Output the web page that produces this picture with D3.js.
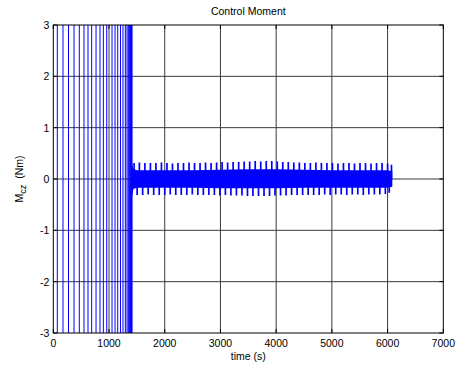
<!DOCTYPE html>
<html>
<head>
<meta charset="utf-8">
<script src="https://cdn.jsdelivr.net/npm/d3@7"></script>
<style>
  body { margin: 0; background: #fff; }
  text { font-family: "Liberation Sans", Arial, sans-serif; fill: #000; }
</style>
</head>
<body>
<div id="target"></div>
<script>
// tick labels
const xTicks = [0, 1000, 2000, 3000, 4000, 5000, 6000, 7000]
const yTicks = [-3, -2, -1, 0, 1, 2, 3]

// big off-scale swings before ~1400 s (crossing times, s)
const swingTimes = [72, 174, 273, 372, 467, 551, 623, 689, 767, 838, 898, 959, 1054, 1108,
    1156, 1206, 1251, 1293, 1323, 1345, 1360, 1372, 1384, 1395, 1405, 1413]

// dense oscillation envelope after the transient
const bandTimes = [1412, 1425, 1445, 1500, 2000, 2500, 3000, 3500, 4000, 4500, 5000, 5500, 6000, 6085]
const bandHigh = [0.30, 0.24, 0.19, 0.17, 0.17, 0.17, 0.18, 0.19, 0.19, 0.18, 0.17, 0.17, 0.17, 0.15]
const bandLow = [-0.27, -0.24, -0.19, -0.17, -0.17, -0.17, -0.18, -0.18, -0.18, -0.17, -0.17, -0.17, -0.17, -0.15]

// periodic spikes (time of upper spike, s) and their extremes (Nm)
const spikeTimes = [1450, 1545, 1644, 1743, 1842, 1941, 2040, 2139, 2238, 2337, 2436, 2535, 2634,
    2733, 2832, 2931, 3030, 3129, 3228, 3327, 3426, 3525, 3624, 3723, 3822, 3921, 4020, 4119,
    4218, 4317, 4416, 4515, 4614, 4713, 4812, 4911, 5010, 5109, 5208, 5307, 5406, 5505, 5604,
    5703, 5802, 5901, 6000, 6070]
const spikeHigh = [0.31, 0.32, 0.31, 0.31, 0.31, 0.32, 0.31, 0.30, 0.31, 0.31, 0.32, 0.31, 0.31,
    0.32, 0.31, 0.32, 0.33, 0.32, 0.33, 0.33, 0.34, 0.34, 0.35, 0.34, 0.35, 0.35, 0.34, 0.33,
    0.33, 0.32, 0.32, 0.31, 0.31, 0.32, 0.31, 0.31, 0.31, 0.30, 0.31, 0.31, 0.30, 0.31, 0.31,
    0.30, 0.31, 0.31, 0.30, 0.28]
const spikeLow = [-0.30, -0.31, -0.31, -0.30, -0.31, -0.31, -0.31, -0.30, -0.31, -0.31, -0.31, -0.30, -0.31,
    -0.31, -0.31, -0.31, -0.32, -0.31, -0.32, -0.32, -0.32, -0.33, -0.33, -0.33, -0.33, -0.33, -0.32, -0.32,
    -0.32, -0.31, -0.31, -0.31, -0.31, -0.31, -0.31, -0.30, -0.31, -0.30, -0.30, -0.31, -0.30, -0.30, -0.31,
    -0.30, -0.30, -0.30, -0.29, -0.27]

const width = 460, height = 372
const margin = { left: 53.3, right: 16.7, top: 25, bottom: 39 }
const blue = '#0000ff'

const svg = d3.select('#target').append('svg')
    .attr('width', width)
    .attr('height', height)

const x = d3.scaleLinear().domain([0, 7000]).range([margin.left, width - margin.right])
const y = d3.scaleLinear().domain([-3, 3]).range([height - margin.bottom, margin.top])

svg.append('clipPath').attr('id', 'plot-clip')
    .append('rect')
    .attr('x', x(0)).attr('y', y(3))
    .attr('width', x(7000) - x(0)).attr('height', y(-3) - y(3))

//Grid
const grid = svg.append('g').attr('stroke', '#3a3a3a').attr('stroke-width', 1)
grid.selectAll('line.gx')
    .data(xTicks.slice(1, -1))
    .enter().append('line')
    .attr('x1', d => x(d)).attr('x2', d => x(d))
    .attr('y1', y(3)).attr('y2', y(-3))
grid.selectAll('line.gy')
    .data(yTicks.slice(1, -1))
    .enter().append('line')
    .attr('x1', x(0)).attr('x2', x(7000))
    .attr('y1', d => y(d)).attr('y2', d => y(d))

//Signal
const plot = svg.append('g').attr('clip-path', 'url(#plot-clip)')

plot.selectAll('line.swing')
    .data(swingTimes)
    .enter().append('line')
    .attr('x1', d => x(d)).attr('x2', d => x(d))
    .attr('y1', y(3.5)).attr('y2', y(-3.5))
    .attr('stroke', blue)
    .attr('stroke-width', 1)

const bandData = bandTimes.map((t, i) => [t, bandLow[i], bandHigh[i]])
plot.append('path')
    .attr('d', d3.area()
        .x(d => x(d[0]))
        .y0(d => y(d[1]))
        .y1(d => y(d[2]))(bandData))
    .attr('fill', blue)

plot.selectAll('line.up')
    .data(spikeTimes)
    .enter().append('line')
    .attr('x1', d => x(d)).attr('x2', d => x(d))
    .attr('y1', y(0)).attr('y2', (d, i) => y(spikeHigh[i]))
    .attr('stroke', blue)
    .attr('stroke-width', 1.7)

plot.selectAll('line.down')
    .data(spikeTimes)
    .enter().append('line')
    .attr('x1', d => x(d - 40)).attr('x2', d => x(d - 40))
    .attr('y1', y(0)).attr('y2', (d, i) => y(spikeLow[i]))
    .attr('stroke', blue)
    .attr('stroke-width', 1.7)

//Box and ticks
svg.append('rect')
    .attr('x', x(0)).attr('y', y(3))
    .attr('width', x(7000) - x(0)).attr('height', y(-3) - y(3))
    .attr('fill', 'none')
    .attr('stroke', '#000')
    .attr('stroke-width', 1)

const ticks = svg.append('g').attr('stroke', '#000').attr('stroke-width', 1)
xTicks.forEach(d => {
    ticks.append('line').attr('x1', x(d)).attr('x2', x(d)).attr('y1', y(-3)).attr('y2', y(-3) - 4)
    ticks.append('line').attr('x1', x(d)).attr('x2', x(d)).attr('y1', y(3)).attr('y2', y(3) + 4)
})
yTicks.forEach(d => {
    ticks.append('line').attr('x1', x(0)).attr('x2', x(0) + 4).attr('y1', y(d)).attr('y2', y(d))
    ticks.append('line').attr('x1', x(7000)).attr('x2', x(7000) - 4).attr('y1', y(d)).attr('y2', y(d))
})

//Labels
svg.selectAll('text.xt')
    .data(xTicks)
    .enter().append('text')
    .attr('x', d => x(d))
    .attr('y', y(-3) + 14)
    .attr('text-anchor', 'middle')
    .attr('font-size', '10.5px')
    .text(d => d)

svg.selectAll('text.yt')
    .data(yTicks)
    .enter().append('text')
    .attr('x', x(0) - 4)
    .attr('y', d => y(d) + 4)
    .attr('text-anchor', 'end')
    .attr('font-size', '10.5px')
    .text(d => d)

svg.append('text')
    .attr('x', (x(0) + x(7000)) / 2)
    .attr('y', 15)
    .attr('text-anchor', 'middle')
    .attr('font-size', '10.5px')
    .text('Control Moment')

svg.append('text')
    .attr('x', (x(0) + x(7000)) / 2)
    .attr('y', 360)
    .attr('text-anchor', 'middle')
    .attr('font-size', '10.5px')
    .text('time (s)')

const yLabel = svg.append('text')
    .attr('transform', `translate(23,${y(0)}) rotate(-90)`)
    .attr('text-anchor', 'middle')
    .attr('font-size', '10.5px')
yLabel.append('tspan').text('M')
yLabel.append('tspan').attr('font-size', '9px').attr('dy', 3).text('cz')
yLabel.append('tspan').attr('dy', -3).text('\u00a0 (Nm)')
</script>
</body>
</html>
